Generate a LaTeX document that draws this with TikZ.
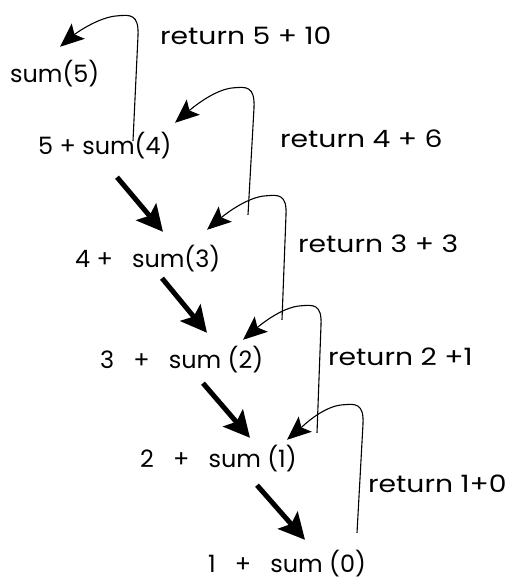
\documentclass[tikz,border=0pt]{standalone}
\usepackage{fontspec}
\setmainfont{Poppins}
\newfontfamily\retfont[FakeStretch=1.18]{Poppins}
\usetikzlibrary{arrows.meta}
\newcommand{\gap}{\hspace{0.8em}}

\begin{document}
\begin{tikzpicture}[x=1bp, y=-1bp,
  term/.style={anchor=base west, inner sep=0pt, text height=14bp, text depth=4bp,
    font=\fontsize{24}{28}\selectfont},
  retval/.style={term, font=\fontsize{24}{28}\retfont},
  call/.style={line width=5bp, arrows={-Stealth[length=26bp, width=26bp, inset=5bp]}},
  back/.style={line width=1.1bp, arrows={-Stealth[length=24bp, width=20bp, inset=5bp]}}]

  \useasboundingbox (0,0) rectangle (512,579);

  % Calls
  \node[term] (s5) at (10,83)  {sum(5)};
  \node[term] (s4) at (38,155) {5 + sum(4)};
  \node[term] (s3) at (75,267) {4 +\gap sum(3)};
  \node[term] (s2) at (100,368) {3\gap +\gap sum (2)};
  \node[term] (s1) at (140,467) {2\gap +\gap sum (1)};
  \node[term] (s0) at (208,572) {1\gap +\gap sum (0)};

  % Return values
  \node[retval] (r5) at (160,45)  {return 5 + 10};
  \node[retval] (r4) at (280,148) {return 4 + 6};
  \node[retval] (r3) at (298,252) {return 3 + 3};
  \node[retval] (r2) at (328,365) {return 2 +1};
  \node[retval] (r1) at (368,492) {return 1+0};

  % ---- going down ----
  \draw[call] ([shift={(79,18)}]s4.south west) -- ([shift={(88,-21)}]s3.north west);
  \draw[call] ([shift={(87,7)}]s3.south west) -- ([shift={(107,-21)}]s2.north west);
  \draw[call] ([shift={(103,11)}]s2.south west) -- ([shift={(110,-15)}]s1.north west);
  \draw[call] ([shift={(117,14)}]s1.south west) -- ([shift={(97,-18)}]s0.north west);

  % ---- coming back ----
  \draw[back] ([xshift=95bp]s4.north west) -- ++(5,-105)
    .. controls +(1,-22) and +(12,-1) .. ++(-20,-20)
    .. controls +(-20,1) and +(14,-12) .. ([shift={(50,-22)}]s5.north west);
  \draw[back] ([shift={(173,-38)}]s3.north west) -- ++(6,-107)
    .. controls +(1,-22) and +(12,-1) .. ++(-20,-20)
    .. controls +(-20,1) and +(14,-12) .. ([shift={(137,-18)}]s4.north west);
  \draw[back] ([shift={(182,-34)}]s2.north west) -- ++(4,-105)
    .. controls +(1,-21) and +(12,-1) .. ++(-20,-19)
    .. controls +(-20,1) and +(14,-12) .. ([shift={(132,-23)}]s3.north west);
  \draw[back] ([shift={(177,-20)}]s1.north west) -- ++(4,-108)
    .. controls +(1,-21) and +(12,-1) .. ++(-20,-19)
    .. controls +(-20,1) and +(14,-12) .. ([shift={(143,-14)}]s2.north west);
  \draw[back] ([shift={(149,-25)}]s0.north west) -- ++(6,-109)
    .. controls +(1,-21) and +(12,-1) .. ++(-20,-19)
    .. controls +(-20,1) and +(14,-12) .. ([shift={(147,-13)}]s1.north west);

\end{tikzpicture}
\end{document}
